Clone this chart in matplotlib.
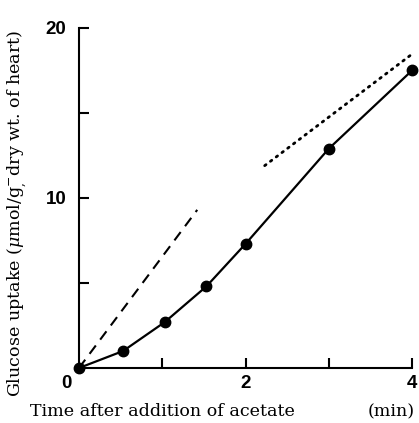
import matplotlib
matplotlib.use("Agg")
import matplotlib.pyplot as plt

# glucose uptake after acetate addition
time_min = [0, 0.53, 1.03, 1.53, 2.0, 3.0, 4.0]
uptake = [0.0, 1.0, 2.7, 4.8, 7.3, 12.9, 17.5]

# initial rate (dashed) and final rate (dotted)
dash_x = [0, 1.42]
dash_y = [0, 9.3]
dot_x = [2.23, 4.01]
dot_y = [11.9, 18.5]

plt.rcParams['mathtext.fontset'] = 'dejavuserif'
tick_font = ['Liberation Sans', 'DejaVu Sans']

fig = plt.figure(figsize=(4.19, 4.23), dpi=100)
ax = fig.add_axes([0.1885, 0.130, 0.795, 0.804])

ax.plot(time_min, uptake, 'k-', lw=1.6, marker='o', ms=7.5, clip_on=False, zorder=3)
ax.plot(dash_x, dash_y, color='k', lw=1.5, dashes=(5, 3.5))
ax.plot(dot_x, dot_y, color='k', lw=2.0, linestyle=(0, (0.6, 2.0)), dash_capstyle='round')

ax.set_xlim(0, 4)
ax.set_ylim(0, 20)
ax.spines['top'].set_visible(False)
ax.spines['right'].set_visible(False)
ax.spines['left'].set_linewidth(1.5)
ax.spines['bottom'].set_linewidth(1.5)

ax.set_xticks([1, 2, 3, 4])
ax.set_xticklabels(['', '2', '', '4'])
ax.set_yticks([10, 20])
ax.set_yticks([5, 15], minor=True)
ax.tick_params(direction='in', length=7, width=1.5)
ax.tick_params(axis='x', pad=5)
ax.tick_params(axis='y', pad=9)
ax.tick_params(which='minor', direction='in', length=7, width=1.5)
for lab in ax.get_xticklabels() + ax.get_yticklabels():
    lab.set_fontweight('bold')
    lab.set_fontsize(13.5)
    lab.set_family(tick_font)
ax.text(-0.15, -0.4, '0', ha='center', va='top', fontsize=13.5, fontweight='bold',
        family=tick_font)

fig.text(30 / 419, 1 - 416 / 423, 'Time after addition of acetate',
         family='DejaVu Serif', fontsize=12.6, ha='left', va='baseline')
fig.text(415 / 419, 1 - 416 / 423, '(min)',
         family='DejaVu Serif', fontsize=12.6, ha='right', va='baseline')
fig.text(17 / 419, 1 - 213 / 423,
         'Glucose uptake ($\\mu$mol/g$^{-}_{,}$dry wt. of heart)',
         family='DejaVu Serif', fontsize=12.6, rotation=90, ha='center', va='center')

fig.savefig('out.png')
